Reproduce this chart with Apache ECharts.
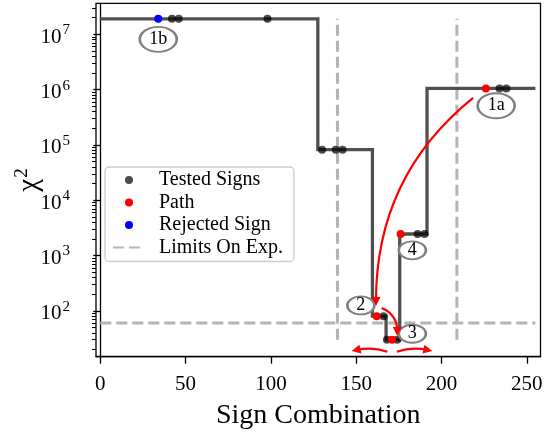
<!DOCTYPE html>
<html>
<head>
<meta charset="utf-8">
<script src="https://cdn.jsdelivr.net/npm/echarts@6/dist/echarts.min.js"></script>
<style>
  html, body { margin: 0; padding: 0; background: #ffffff; }
  #chart { width: 544px; height: 432px; }
</style>
</head>
<body>
<div id="chart"></div>
<script>
// ---- chi-square profile over the 256 sign combinations ----
// level of chi^2 held between consecutive edges
const stepEdges  = [0, 127.5, 159.5, 167.5, 175.5, 191.5, 255];
const stepLevels = [1.9e7, 8.2e4, 80, 30, 2450, 1.05e6];

// combinations that were evaluated
const testedX = [42, 46, 98, 130, 138, 142, 166, 168, 174, 186, 190, 234, 238];
const testedY = [1.9e7, 1.9e7, 1.9e7, 8.2e4, 8.2e4, 8.2e4, 80, 30, 30, 2450, 2450, 1.05e6, 1.05e6];

// combinations along the accepted path
const pathX = [226, 162, 171, 176];
const pathY = [1.05e6, 80, 30, 2450];

// rejected starting combination
const rejectedX = [34];
const rejectedY = [1.9e7];

// experimental limits
const limitX = [139, 209];
const limitChi2 = 60;

// step labels (anchored in data coordinates)
const stepLabelText = ['1b', '1a', '2', '3', '4'];
const stepLabelX = [34, 232, 152.7, 182.9, 182.9];
const stepLabelY = [8.1e6, 5.1e5, 125, 38.5, 1240];

// search arrows, from -> to in data coordinates
const arrowFrom = [[218.5, 7.1e5], [164.9, 112], [168.3, 18.2], [173.8, 18.2]];
const arrowTo   = [[161.6, 147],   [174.1, 42.3], [149.9, 19.5], [192.0, 19.5]];
const arrowBend = [-0.24, 0.33, -0.14, 0.14];

// axis ticks
const xTicks = [0, 50, 100, 150, 200, 250];
const yTicks = [1e2, 1e3, 1e4, 1e5, 1e6, 1e7];

const FONT = 'Liberation Serif';
const yMin = 14.8, yMax = 3.63e7;

// minor log ticks: 2..9 times each decade that falls inside the range
const yMinor = [];
[1e1].concat(yTicks).forEach(d => {
  for (let k = 2; k <= 9; k++) {
    const v = k * d;
    if (v >= yMin && v <= yMax) yMinor.push(v);
  }
});

const stepData = stepLevels.map((v, i) => [stepEdges[i], v]);
stepData.push([stepEdges[stepEdges.length - 1], stepLevels[stepLevels.length - 1]]);

const pairs = (xs, ys) => xs.map((x, i) => [x, ys[i]]);

const lo = Math.min.apply(null, stepLevels);
const hi = Math.max.apply(null, stepLevels);
const dashStyle = { color: '#b4b4b4', width: 3, type: [11, 5] };
const dashItem = { color: '#b4b4b4', opacity: 0 };

const limitSeries = limitX.map(x => ({
  name: 'Limits On Exp.', type: 'line', z: 1, silent: true,
  symbol: 'none', showSymbol: false, lineStyle: dashStyle, itemStyle: dashItem,
  data: [[x, lo], [x, hi]]
}));
limitSeries.push({
  name: 'Limits On Exp.', type: 'line', z: 1, silent: true,
  symbol: 'none', showSymbol: false, lineStyle: dashStyle, itemStyle: dashItem,
  data: [[stepEdges[0], limitChi2], [stepEdges[stepEdges.length - 1], limitChi2]]
});

const bigLabel = ['1b', '1a'];
const labelData = stepLabelText.map((t, i) => ({
  value: [stepLabelX[i], stepLabelY[i]],
  symbolSize: bigLabel.indexOf(t) >= 0 ? [37, 25] : [27, 18],
  label: { formatter: t }
}));

const arrowData = arrowFrom.map((f, i) => ({
  coords: [f, arrowTo[i]],
  lineStyle: { curveness: arrowBend[i] }
}));

const chart = echarts.init(document.getElementById('chart'), null, { renderer: 'canvas' });

chart.setOption({
  animation: false,
  backgroundColor: '#ffffff',
  grid: {
    left: 96, right: 3.5, top: 3.3, bottom: 75.3,
    containLabel: false, outerBoundsMode: 'none',
    show: true, borderColor: '#000000', borderWidth: 1.3, backgroundColor: 'transparent'
  },
  xAxis: {
    type: 'value', min: -2.5, max: 258,
    name: 'Sign Combination', nameLocation: 'middle', nameGap: 45, nameMoveOverlap: false,
    nameTextStyle: { fontFamily: FONT, fontSize: 28, color: '#000' },
    axisLine: { show: true, lineStyle: { color: '#000', width: 1.3 } },
    axisTick: { show: true, length: 7, lineStyle: { color: '#000', width: 1.3 }, customValues: xTicks },
    axisLabel: { fontFamily: FONT, fontSize: 21, color: '#000', margin: 17, customValues: xTicks },
    splitLine: { show: false }
  },
  yAxis: [{
    type: 'log', min: yMin, max: yMax, logBase: 10,
    name: '{c|χ}{s|2}', nameLocation: 'middle', nameGap: 50, nameRotate: 90, nameMoveOverlap: false,
    nameTextStyle: {
      color: '#000',
      rich: {
        c: { fontFamily: FONT, fontSize: 29, color: '#000' },
        s: { fontFamily: FONT, fontSize: 19, color: '#000', padding: [0, 0, 14, 1] }
      }
    },
    axisLine: { show: true, lineStyle: { color: '#000', width: 1.3 } },
    axisTick: { show: true, length: 7, lineStyle: { color: '#000', width: 1.3 }, customValues: yTicks },
    axisLabel: {
      margin: 26, customValues: yTicks,
      formatter: v => '{b|10}{s|' + Math.round(Math.log10(v)) + '}',
      rich: {
        b: { fontFamily: FONT, fontSize: 21, color: '#000', padding: [6, 0, 0, 0] },
        s: { fontFamily: FONT, fontSize: 15, color: '#000', padding: [0, 0, 8, 1] }
      }
    },
    splitLine: { show: false }
  }, {
    type: 'log', min: yMin, max: yMax, logBase: 10, position: 'left',
    axisLine: { show: false },
    axisTick: { show: true, length: 4, lineStyle: { color: '#000', width: 1 }, customValues: yMinor },
    axisLabel: { show: false },
    splitLine: { show: false }
  }],
  legend: {
    orient: 'vertical', left: 105, top: 167,
    itemWidth: 32, itemHeight: 8, itemGap: 2.5,
    padding: [3, 11, 4, 7],
    backgroundColor: 'rgba(255,255,255,0.8)',
    borderColor: '#cccccc', borderWidth: 1.3, borderRadius: 4,
    selectedMode: false,
    textStyle: { fontFamily: FONT, fontSize: 20, color: '#000', lineHeight: 20, padding: [0, 0, 0, 9] },
    data: [
      { name: 'Tested Signs', icon: 'circle' },
      { name: 'Path', icon: 'circle' },
      { name: 'Rejected Sign', icon: 'circle' },
      { name: 'Limits On Exp.', itemStyle: { opacity: 0 } }
    ]
  },
  series: limitSeries.concat([
    {
      name: 'chi2', type: 'line', step: 'end', z: 2, silent: true,
      symbol: 'none', lineStyle: { color: '#505050', width: 3.3, join: 'miter' },
      data: stepData
    },
    {
      name: 'Tested Signs', type: 'scatter', z: 3, silent: true,
      symbolSize: 8, itemStyle: { color: 'rgba(0,0,0,0.7)', opacity: 1 },
      data: pairs(testedX, testedY)
    },
    {
      name: 'Path', type: 'scatter', z: 3, silent: true,
      symbolSize: 8, itemStyle: { color: '#ff0000', opacity: 1 },
      data: pairs(pathX, pathY)
    },
    {
      name: 'Rejected Sign', type: 'scatter', z: 3, silent: true,
      symbolSize: 8, itemStyle: { color: '#0000ff', opacity: 1 },
      data: pairs(rejectedX, rejectedY)
    },
    {
      name: 'step labels', type: 'scatter', z: 4, silent: true,
      symbol: 'circle',
      itemStyle: { color: '#ffffff', borderColor: '#808080', borderWidth: 2.2, opacity: 1 },
      label: { show: true, position: 'inside', fontFamily: FONT, fontSize: 18, color: '#000' },
      data: labelData
    },
    {
      name: 'arrows', type: 'lines', coordinateSystem: 'cartesian2d', z: 5, silent: true,
      symbol: ['none', 'triangle'], symbolSize: 9,
      lineStyle: { color: '#ff0000', width: 2.2, opacity: 1 },
      data: arrowData
    }
  ])
});
</script>
</body>
</html>
